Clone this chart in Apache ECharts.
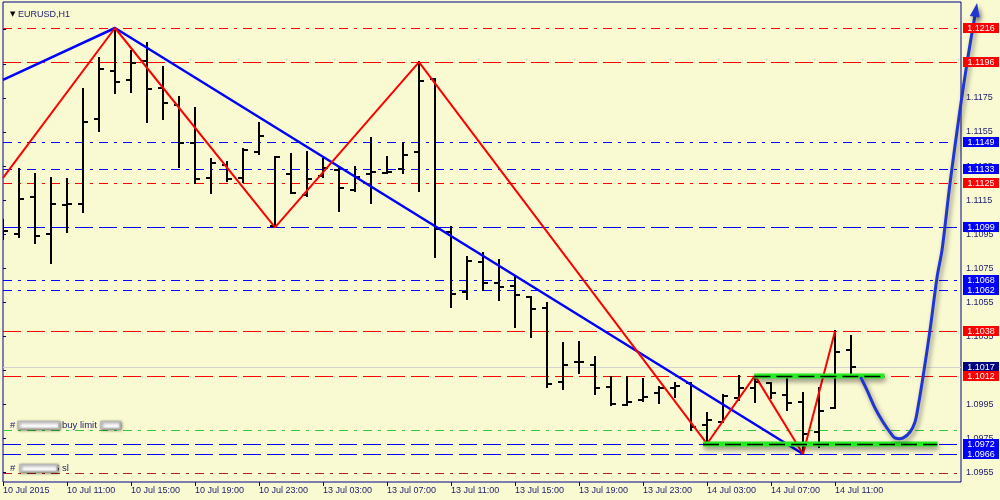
<!DOCTYPE html>
<html><head><meta charset="utf-8">
<script src="https://cdn.jsdelivr.net/npm/echarts@6/dist/echarts.min.js"></script>
<style>html,body{margin:0;padding:0;background:#fafad2;}#c{width:1000px;height:500px;}</style>
</head><body><div id="c"></div>
<script>
// ---------- DATA ----------
const symbolTitle = 'EURUSD,H1';
const tickBars = [0,4,8,12,16,20,24,28,32,36,40,44,48,52];
const tickLabels = ['10 Jul 2015','10 Jul 11:00','10 Jul 15:00','10 Jul 19:00','10 Jul 23:00','13 Jul 03:00','13 Jul 07:00','13 Jul 11:00','13 Jul 15:00','13 Jul 19:00','13 Jul 23:00','14 Jul 03:00','14 Jul 07:00','14 Jul 11:00'];
const priceTicks = [1.0955,1.0975,1.0995,1.1015,1.1035,1.1055,1.1075,1.1095,1.1115,1.1135,1.1155,1.1175,1.1195,1.1215];

const opens  = [1.10998,1.10951,1.11168,1.10951,1.11124,1.11127,1.11626,1.11908,1.11855,1.11966,1.11808,1.11708,1.11485,1.11280,1.11356,1.11280,1.11432,1.11000,1.11303,1.11180,1.11291,1.11327,1.11209,1.11303,1.11309,1.11333,1.11432,1.11861,1.10963,1.10611,1.10787,1.10663,1.10646,1.10581,1.10517,1.10082,1.10200,1.10182,1.10053,1.09947,1.09977,1.10018,1.10047,1.10076,1.09830,1.09848,1.09988,1.10047,1.10076,1.10006,1.09965,1.09789,1.09930,1.10270];
const highs  = [1.11033,1.11333,1.11303,1.11280,1.11274,1.11802,1.11984,1.12160,1.12025,1.12072,1.11931,1.11755,1.11690,1.11391,1.11374,1.11450,1.11602,1.11403,1.11421,1.11432,1.11391,1.11344,1.11344,1.11514,1.11403,1.11485,1.11960,1.11861,1.10992,1.10816,1.10840,1.10798,1.10699,1.10581,1.10546,1.10311,1.10317,1.10229,1.10112,1.10112,1.10100,1.10053,1.10076,1.10076,1.09900,1.10006,1.10120,1.10112,1.10076,1.10112,1.10018,1.10047,1.10380,1.10352];
const lows   = [1.10922,1.10933,1.10898,1.10781,1.10963,1.11080,1.11556,1.11779,1.11784,1.11608,1.11626,1.11344,1.11250,1.11192,1.11262,1.11256,1.11421,1.10990,1.11192,1.11174,1.11286,1.11086,1.11203,1.11133,1.11309,1.11309,1.11203,1.10816,1.10523,1.10570,1.10622,1.10564,1.10405,1.10347,1.10053,1.10041,1.10135,1.10012,1.09947,1.09947,1.09971,1.09959,1.09994,1.09801,1.09720,1.09848,1.09977,1.09965,1.09988,1.09918,1.09660,1.09701,1.09930,1.10129];
const closes = [1.10969,1.11156,1.10939,1.11127,1.11130,1.11608,1.11919,1.11843,1.11955,1.11802,1.11720,1.11485,1.11274,1.11368,1.11274,1.11444,1.11526,1.11403,1.11192,1.11274,1.11338,1.11221,1.11286,1.11315,1.11315,1.11415,1.11849,1.10980,1.10599,1.10793,1.10663,1.10640,1.10593,1.10511,1.10071,1.10182,1.10200,1.10047,1.09953,1.09965,1.09994,1.10047,1.10059,1.09818,1.09859,1.10000,1.10047,1.10082,1.10018,1.09959,1.09777,1.09912,1.10258,1.10170];

const zigzagBars   = [0,7,17,26,44,47,50,52];
const zigzagPrices = [1.1128,1.1216,1.1099,1.1196,1.0972,1.1012,1.0966,1.1038];
const trendBars    = [0,7,50];
const trendPrices  = [1.11855,1.1216,1.0966];

const levelPrices = [1.1216,1.1196,1.1149,1.1133,1.1125,1.1099,1.1068,1.1062,1.1038,1.1017,1.1012,1.0980,1.0972,1.0966,1.0955];
const levelKinds  = ['resDot','resDash','supDot','supDot','resDot','supDash','supDot','supDot','resDash','bid','resDash','buy','supDash','supDash','sl'];

const zoneStartBars = [46.96,43.75];
const zoneEndBars   = [55.1,58.4];
const zonePrices    = [1.1012,1.0972];

const forecastBars   = [53.63,54.0,54.5,55.0,55.56,55.75,56.25,56.69,57.0,57.19,57.5,57.94,58.38,58.69,59.19,59.81,60.31,60.88];
const forecastPrices = [1.10106,1.10035,1.09930,1.09848,1.09772,1.09754,1.09754,1.09789,1.09848,1.09936,1.10112,1.10388,1.10699,1.10857,1.11250,1.11679,1.11990,1.12307];

const orderPrices = [1.0980,1.0955];
const orderTexts  = ['buy limit','sl'];

// ---------- STYLE ----------
const NAVY = '#1b1b6e';
const FONT = '"Liberation Sans", Arial, sans-serif';
const CURVE = '#2136d0';
const kindStyle = {
  resDot:{c:'#ff0000',d:[9,6,3,6],box:'#ff0000'},
  resDash:{c:'#ff0000',d:[18,6],box:'#ff0000'},
  supDot:{c:'#0000ff',d:[9,6,3,6],box:'#0000ff'},
  supDash:{c:'#0000ff',d:[18,6],box:'#0000ff'},
  bid:{c:'#d2d2d2',d:null,box:'#000080'},
  buy:{c:'#33cc33',d:[9,6,3,6],box:null},
  sl:{c:'#b22222',d:[9,6,3,6],box:null}
};

const chart = echarts.init(document.getElementById('c'));
const ohlc = opens.map((o,i)=>[i,o,highs[i],lows[i],closes[i]]);
const fc = forecastBars.map((b,i)=>[b,forecastPrices[i]]);

const option = {
  animation:false,
  backgroundColor:'#fafad2',
  title:{text:'{t|▼} '+symbolTitle,left:5,top:5,
    textStyle:{fontSize:9,fontFamily:FONT,color:NAVY,fontWeight:'normal',
      rich:{t:{fontSize:7,color:'#000',fontFamily:'DejaVu Sans'}}}},
  grid:{left:3,top:2,right:39,bottom:18,show:true,borderColor:'#00008b',borderWidth:1,backgroundColor:'#fafad2'},
  xAxis:{type:'value',min:0,max:59.875,
    axisLine:{show:false},
    splitLine:{show:false},
    axisTick:{show:true,customValues:tickBars,length:4,lineStyle:{color:'#00008b'}},
    axisLabel:{customValues:tickBars,formatter:v=>{const k=tickBars.indexOf(Math.round(v));return k>=0?tickLabels[k]:'';},
      align:'left',margin:4,fontSize:9,fontFamily:FONT,color:NAVY}},
  yAxis:{type:'value',position:'right',min:1.0949568,max:1.1231258,scale:true,
    axisLine:{show:false},splitLine:{show:false},
    axisTick:{show:true,customValues:priceTicks,length:3,lineStyle:{color:'#00008b'}},
    axisLabel:{customValues:priceTicks,formatter:v=>v.toFixed(4),margin:5,fontSize:9,fontFamily:FONT,color:NAVY}},
  series:[
    // horizontal levels
    {type:'custom',z:1,clip:true,data:levelPrices.map((p,i)=>[0,p,i]),encode:{x:0,y:1},
      renderItem:(params,api)=>{
        const cs=params.coordSys; const st=kindStyle[levelKinds[api.value(2)]];
        const y=Math.round(api.coord([0,api.value(1)])[1])+0.5;
        return {type:'line',shape:{x1:cs.x,y1:y,x2:cs.x+cs.width,y2:y},
          style:{stroke:st.c,lineWidth:1,lineDash:st.d}};
      }},
    // order annotations
    {type:'custom',z:2,clip:false,data:orderPrices.map((p,i)=>[0,p,i]),encode:{x:0,y:1},
      renderItem:(params,api)=>{
        const cs=params.coordSys; const i=api.value(2);
        const y=Math.round(api.coord([0,api.value(1)])[1])-5;
        const x0=cs.x+7;
        const txt=(t,x)=>({type:'text',style:{text:t,x:x,y:y,fill:NAVY,font:'9.5px '+FONT,verticalAlign:'middle'}});
        const box=(x,w)=>({type:'rect',shape:{x:x,y:y-3.5,width:w,height:7},
          style:{fill:'#ffffff',stroke:'#b8b8b8',lineWidth:1.5,shadowBlur:3,shadowColor:'rgba(0,0,0,0.5)',shadowOffsetX:1,shadowOffsetY:1}});
        if(i===0){
          return {type:'group',children:[txt('#',x0),box(x0+8,41),txt(orderTexts[0],x0+52),box(x0+91,19)]};
        }
        return {type:'group',children:[txt('#',x0),txt('5 '+orderTexts[1],x0+44),box(x0+10,37)]};
      }},
    // OHLC bars
    {type:'custom',z:3,clip:true,data:ohlc,encode:{x:0,y:[1,2,3,4]},
      renderItem:(params,api)=>{
        const x=Math.round(api.coord([api.value(0),1.1])[0]);
        const yo=Math.round(api.coord([0,api.value(1)])[1]);
        const yh=Math.round(api.coord([0,api.value(2)])[1]);
        const yl=Math.round(api.coord([0,api.value(3)])[1]);
        const yc=Math.round(api.coord([0,api.value(4)])[1]);
        const s={stroke:'#000',lineWidth:2};
        return {type:'group',children:[
          {type:'line',shape:{x1:x,y1:yh-1,x2:x,y2:yl+1},style:s},
          {type:'line',shape:{x1:x-5,y1:yo,x2:x,y2:yo},style:s},
          {type:'line',shape:{x1:x,y1:yc,x2:x+5,y2:yc},style:s}
        ]};
      }},
    // blue trend lines
    {type:'line',z:4,data:trendBars.map((b,i)=>[b,trendPrices[i]]),symbol:'none',
      lineStyle:{color:'#0000ff',width:2.5}},
    // red zigzag
    {type:'line',z:5,data:zigzagBars.map((b,i)=>[b,zigzagPrices[i]]),symbol:'none',
      lineStyle:{color:'#ff0000',width:2}},
    // green zones
    {type:'custom',z:6,clip:false,data:zonePrices.map((p,i)=>[zoneStartBars[i],p,zoneEndBars[i]]),encode:{x:[0,2],y:1},
      renderItem:(params,api)=>{
        const a=api.coord([api.value(0),api.value(1)]);
        const b=api.coord([api.value(2),api.value(1)]);
        const y=Math.round(a[1]);
        return {type:'group',children:[
          {type:'line',shape:{x1:a[0],y1:y,x2:b[0],y2:y},
            style:{stroke:'#22ee22',lineWidth:5,shadowBlur:5,shadowColor:'rgba(0,0,0,0.45)',shadowOffsetY:3,shadowOffsetX:1}},
          {type:'line',shape:{x1:a[0],y1:y+0.5,x2:b[0],y2:y+0.5},style:{stroke:'#000',lineWidth:1.5,lineDash:[16,6]}}
        ]};
      }},
    // forecast curve + arrow head (through the axes' scales)
    {type:'custom',z:7,clip:false,data:fc,encode:{x:0,y:1},
      renderItem:(params,api)=>{
        if(params.dataIndex!==0) return null;
        const pts=fc.map(d=>api.coord(d));
        const t=pts[pts.length-1], p=pts[pts.length-2];
        const dx=t[0]-p[0],dy=t[1]-p[1],L=Math.hypot(dx,dy)||1;
        const ux=dx/L,uy=dy/L,nx=-uy,ny=ux;
        const bx=t[0]-ux*14,by=t[1]-uy*14;
        const sh={shadowBlur:5,shadowColor:'rgba(0,0,0,0.45)',shadowOffsetX:2,shadowOffsetY:3};
        return {type:'group',children:[
          {type:'polyline',shape:{points:pts.slice(0,-1).concat([[t[0]-ux*8,t[1]-uy*8]]),smooth:0.3},
            style:Object.assign({stroke:CURVE,lineWidth:3,fill:null,lineJoin:'round',lineCap:'round'},sh)},
          {type:'polygon',shape:{points:[[t[0],t[1]],[bx+nx*5,by+ny*5],[bx-nx*5,by-ny*5]]},
            style:Object.assign({fill:CURVE},sh)}
        ]};
      }},
    // price boxes on the right
    {type:'custom',z:10,clip:false,data:levelPrices.map((p,i)=>[0,p,i]).filter(d=>kindStyle[levelKinds[d[2]]].box),encode:{x:0,y:1},
      renderItem:(params,api)=>{
        const cs=params.coordSys; const p=api.value(1);
        const st=kindStyle[levelKinds[api.value(2)]];
        const y=Math.round(api.coord([0,p])[1]);
        const x=cs.x+cs.width+2;
        return {type:'group',children:[
          {type:'rect',shape:{x:x,y:y-5,width:36,height:10},style:{fill:st.box}},
          {type:'text',style:{text:p.toFixed(4),x:x+18,y:y+0.5,fill:'#fff',font:'9px '+FONT,align:'center',verticalAlign:'middle'}}
        ]};
      }}
  ]
};
chart.setOption(option);
</script></body></html>
